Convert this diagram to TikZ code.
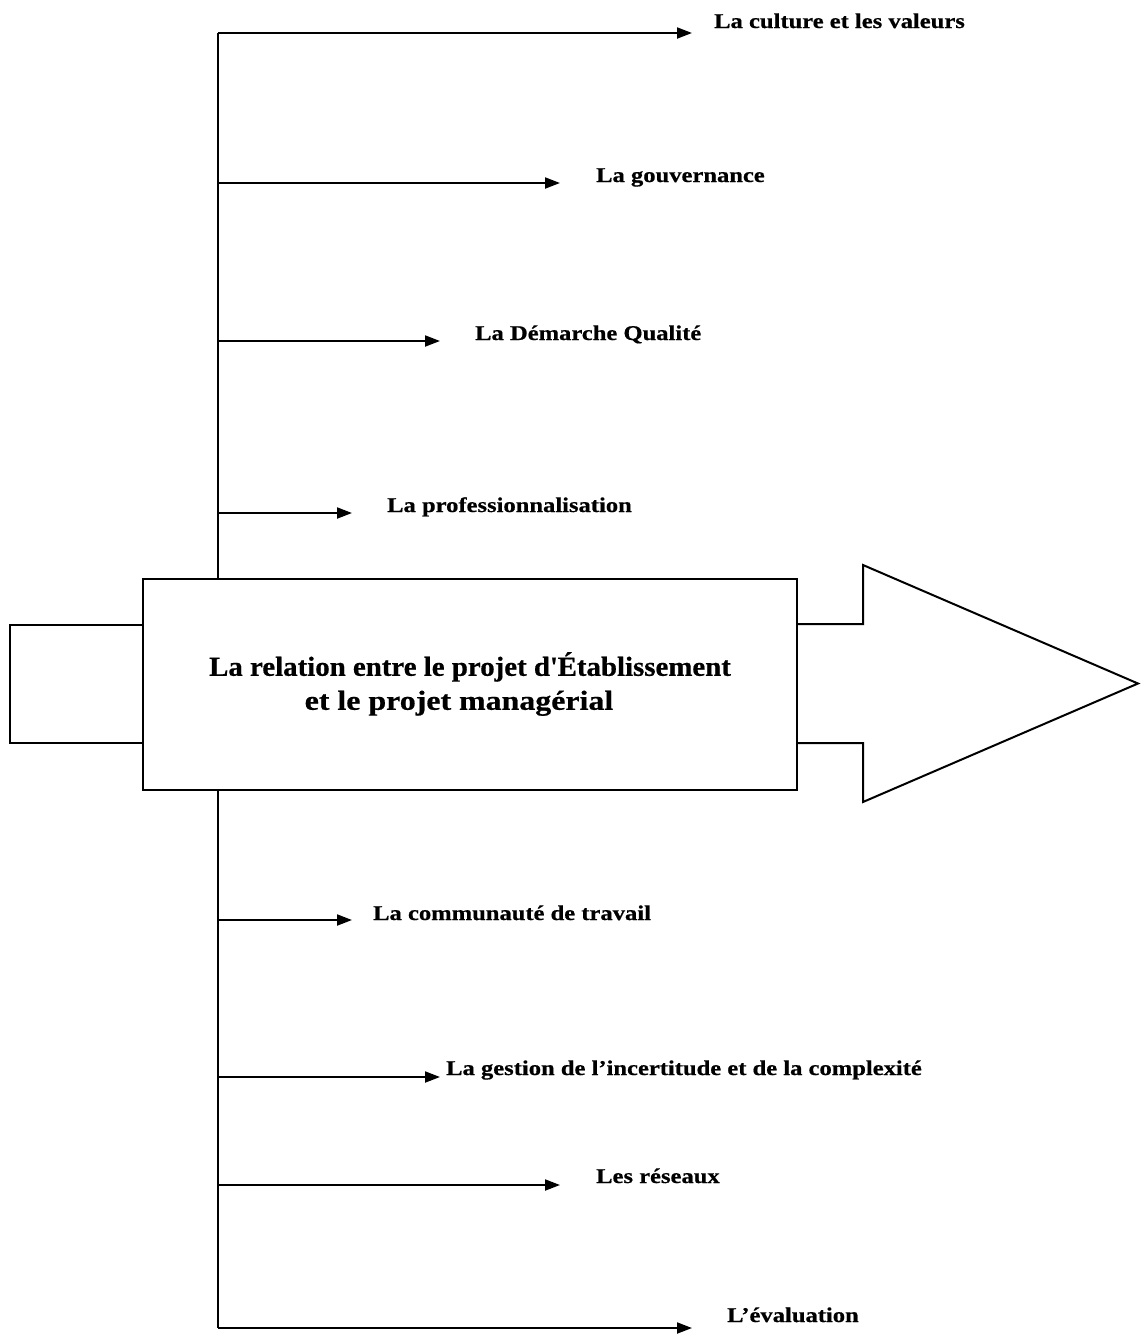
\documentclass[tikz,border=0pt]{standalone}
\usepackage{fontspec}
\setmainfont{Liberation Serif}
\newfontfamily\labfont{Liberation Serif}[FakeStretch=1.17,FakeBold=0.6]
\newfontfamily\mainAfont{Liberation Serif}[FakeStretch=1.05,FakeBold=0.6]
\newfontfamily\mainBfont{Liberation Serif}[FakeStretch=1.16,FakeBold=0.6]
\usetikzlibrary{arrows.meta}
\tikzset{
  line/.style={draw=black, line width=2pt},
  arr/.style={line, -{Triangle[length=15pt,width=11pt]}},
  lab/.style={anchor=base west, inner sep=0pt, font=\labfont\fontsize{21}{24}\selectfont\bfseries},
  boxshape/.style={draw=black, line width=2pt, rectangle, fill=white},
}
\begin{document}
\begin{tikzpicture}[x=1pt,y=-1pt]
\useasboundingbox (0,0) rectangle (1141,1336);
% main shapes
\node[boxshape, minimum width=133pt, minimum height=118pt] (left) at (76.5,684) {};
\draw[line, line join=miter] (797,624) -- (863,624) -- (863,565) -- (1138,683.5) -- (863,802) -- (863,743) -- (797,743);
\node[boxshape, minimum width=654pt, minimum height=211pt, align=center,
      font=\fontsize{27.5}{34}\selectfont\bfseries] (main) at (470,684)
  {\mainAfont La relation entre le projet d\textquotesingle Établissement\\
   \mainBfont et le projet managérial\hspace*{22pt}};
% trunk coordinates
\coordinate (t1) at (218,33);
\coordinate (t2) at (218,183);
\coordinate (t3) at (218,341);
\coordinate (t4) at (218,513);
\coordinate (t5) at (218,920);
\coordinate (t6) at (218,1077);
\coordinate (t7) at (218,1185);
\coordinate (t8) at (218,1328);
\draw[line] (t1) -- (main.north -| t1);
\draw[line] (main.south -| t8) -- (t8);
% labels
\node[lab] (l1) at (714,28) {La culture et les valeurs};
\node[lab] (l2) at (596,182) {La gouvernance};
\node[lab] (l3) at (475,340) {La Démarche Qualité};
\node[lab] (l4) at (387,512) {La professionnalisation};
\node[lab] (l5) at (373,920) {La communauté de travail};
\node[lab] (l6) at (446,1075) {La gestion de l’incertitude et de la complexité};
\node[lab] (l7) at (596,1183) {Les réseaux};
\node[lab] (l8) at (727,1322) {L’évaluation};
% arrows
\draw[arr] (t1) -- ([xshift=-22pt]l1.west |- t1);
\draw[arr] (t2) -- ([xshift=-36pt]l2.west |- t2);
\draw[arr] (t3) -- ([xshift=-35pt]l3.west |- t3);
\draw[arr] (t4) -- ([xshift=-35pt]l4.west |- t4);
\draw[arr] (t5) -- ([xshift=-21pt]l5.west |- t5);
\draw[arr] (t6) -- ([xshift=-6pt]l6.west |- t6);
\draw[arr] (t7) -- ([xshift=-36pt]l7.west |- t7);
\draw[arr] (t8) -- ([xshift=-35pt]l8.west |- t8);
\end{tikzpicture}
\end{document}
